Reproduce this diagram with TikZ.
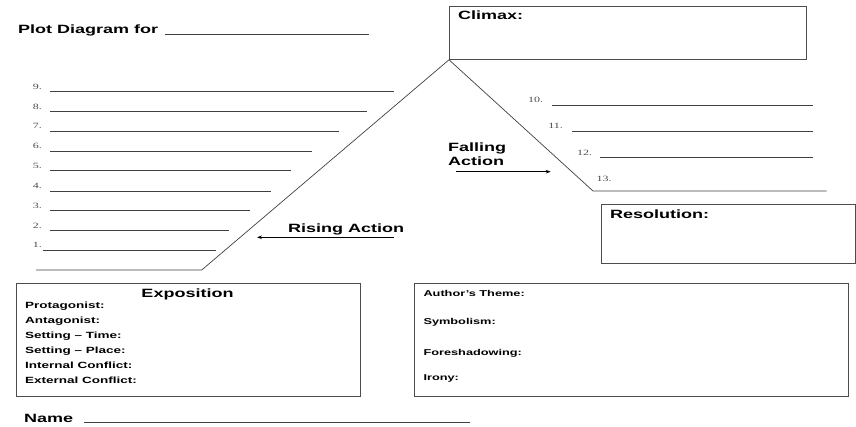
\documentclass[tikz,border=0pt]{standalone}
\usepackage{fontspec}
\setmainfont{Liberation Sans}[FakeStretch=1.5]
\newfontfamily\numfont{Liberation Serif}[FakeStretch=1.5]
\usetikzlibrary{arrows.meta, positioning}
\tikzset{
    framebox/.style={draw=black!70, line width=0.8pt, inner sep=0pt, anchor=north west},
    heading/.style={font=\bfseries\fontsize{12}{14}\selectfont, inner sep=0pt, anchor=base west},
    entry/.style={font=\bfseries\fontsize{9}{11}\selectfont, inner sep=0pt, anchor=base west},
    num/.style={font=\numfont\fontsize{8}{9}\selectfont, text=black!70, inner sep=0pt, anchor=base east},
    blank/.style={draw=black!75, line width=0.7pt},
    arrow/.style={-{Stealth[length=5pt, width=3.6pt]}, line width=0.7pt}
}

\begin{document}
\begin{tikzpicture}[x=1pt, y=-1pt]
    \useasboundingbox (0,0) rectangle (856,427);

    % title
    \node[heading] (plotfor) at (18,34) {Plot Diagram for};
    \coordinate (forend) at (369,34);
    \draw[blank] ([xshift=6.5pt]plotfor.base east) -- (forend);

    % boxes
    \node[framebox, minimum width=357pt, minimum height=53pt] (climax) at (449,6) {};
    \node[heading] (climaxlbl) at (458,20) {Climax:};
    \node[framebox, minimum width=254pt, minimum height=59pt] (resolution) at (600.7,204) {};
    \node[heading] (resolutionlbl) at (610,218.3) {Resolution:};
    \node[framebox, minimum width=344pt, minimum height=112.7pt] (exposition) at (16,283.3) {};
    \node[framebox, minimum width=433.7pt, minimum height=113pt] (theme) at (414,283.3) {};

    % plot line
    \coordinate (base) at (36,270);
    \coordinate (risefoot) at (201.7,270);
    \coordinate (fallfoot) at (593,191);
    \coordinate (baseend) at (826.7,191);
    \draw[blank] (base) -- (risefoot) -- (climax.south west) -- (fallfoot) -- (baseend);

    % rising action blanks
    \foreach \i/\xs/\xe/\y in {9/50/394/91.7, 8/50/366.7/111.7, 7/50/339/131, 6/50/312/151,
        5/50/291/170.7, 4/50/270.7/191, 3/50/250/210.7, 2/50/229.3/230.7, 1/43/215.7/250} {
        \node[num] (n\i) at (42,\y-2.3) {\i.};
        \coordinate (s\i) at (\xs,\y);
        \coordinate (e\i) at (\xe,\y);
        \draw[blank] (s\i) -- (e\i);
    }

    % falling action blanks
    \foreach \i/\xl/\xs/\y in {10/543.3/551.7/105, 11/563/572/131, 12/592.3/600/157.7} {
        \node[num] (n\i) at (\xl,\y-2.4) {\i.};
        \coordinate (s\i) at (\xs,\y);
        \coordinate (e\i) at (813,\y);
        \draw[blank] (s\i) -- (e\i);
    }
    \node[num] (n13) at (611.7,181.7) {13.};

    % arrows
    \node[heading] (rising) at (288,232.5) {Rising Action};
    \coordinate (risetail) at (394,237.3);
    \coordinate (risehead) at (257,237.3);
    \draw[arrow] (risetail) -- (risehead);
    \node[heading, anchor=north west, align=left] (falling) at (448,142.6) {Falling\\Action};
    \coordinate (falltail) at (456,171.7);
    \coordinate (fallhead) at (550.7,171.7);
    \draw[arrow] (falltail) -- (fallhead);

    % exposition
    \node[heading, anchor=base] (exptitle) at (187.5,297.3) {Exposition};
    \foreach \t [count=\k] in {Protagonist:, Antagonist:, Setting -- Time:, Setting -- Place:,
        Internal Conflict:, External Conflict:}
        \node[entry] (exp\k) at (25,293.6+15*\k) {\t};

    % theme box
    \foreach \y/\t [count=\k] in {296.7/Author's Theme:, 324/Symbolism:, 355/Foreshadowing:, 380/Irony:}
        \node[entry, font=\bfseries\fontsize{8.5}{10}\selectfont] (theme\k) at (423.3,\y) {\t};

    % name
    \node[heading] (name) at (24,422.7) {Name};
    \coordinate (nameend) at (470,422.7);
    \draw[blank] ([xshift=11pt]name.base east) -- (nameend);
\end{tikzpicture}
\end{document}
